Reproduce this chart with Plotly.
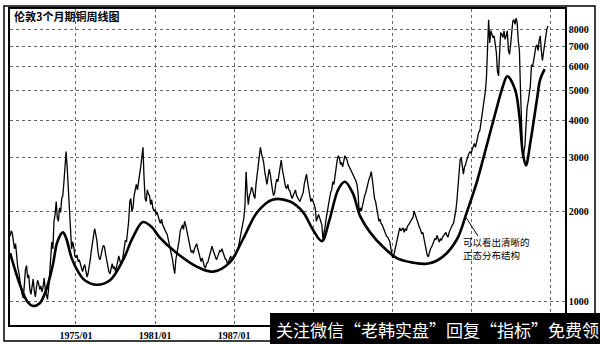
import math
import pandas as pd
import plotly.graph_objects as go

# ---------------- data ----------------
price_start = "1970-01-01"
price_values = [
    # 1970
    1650, 1720, 1690, 1600, 1500, 1560, 1400, 1300, 1250, 1150, 1100, 1060,
    # 1971
    1030, 1150, 1280, 1320, 1200, 1230, 1100, 1060, 1150, 1190, 1090, 1040,
    # 1972
    1120, 1180, 1150, 1100, 1130, 1080, 1120, 1200, 1100, 1040, 1020, 1100,
    # 1973
    1250, 1380, 1580, 1500, 1850, 1950, 2150, 1900, 1850, 2050, 1980, 2200,
    # 1974
    2250, 2500, 2750, 3150, 2800, 2350, 1950, 1750, 1500, 1580, 1520, 1420,
    # 1975
    1400, 1430, 1360, 1380, 1340, 1290, 1260, 1300, 1330, 1270, 1210, 1240,
    # 1976
    1300, 1380, 1480, 1560, 1650, 1750, 1680, 1600, 1470, 1400, 1380, 1460,
    # 1977
    1500, 1540, 1520, 1440, 1360, 1330, 1260, 1240, 1300, 1340, 1290, 1310,
    # 1978
    1260, 1300, 1360, 1420, 1380, 1330, 1350, 1450, 1540, 1600, 1580, 1700,
    # 1979
    1850, 2150, 2200, 2000, 2050, 2250, 2350, 2450, 2350, 2550, 2650, 2800,
    # 1980
    3000, 3250, 2600, 2200, 2150, 2350, 2280, 2250, 2100, 2180, 2050, 2000,
    # 1981
    2020, 1950, 1980, 1900, 1860, 1820, 1880, 1800, 1760, 1720, 1700, 1680,
    # 1982
    1620, 1560, 1500, 1450, 1380, 1300, 1240, 1380, 1450, 1500, 1600, 1720,
    # 1983
    1760, 1800, 1740, 1850, 1800, 1720, 1620, 1580, 1500, 1460, 1480, 1450,
    # 1984
    1500, 1540, 1560, 1500, 1450, 1380, 1360, 1400, 1350, 1310, 1300, 1340,
    # 1985
    1350, 1400, 1450, 1480, 1530, 1480, 1440, 1420, 1380, 1410, 1450, 1480,
    # 1986
    1470, 1500, 1460, 1420, 1390, 1380, 1340, 1360, 1390, 1420, 1370, 1380,
    # 1987
    1400, 1420, 1440, 1480, 1520, 1600, 1640, 1720, 1800, 1900, 2100, 2700,
    # 1988
    2300, 2100, 2250, 2300, 2400, 2350, 2250, 2200, 2450, 2650, 2850, 3100,
    # 1989
    3250, 3100, 3000, 2900, 2700, 2600, 2450, 2600, 2750, 2650, 2450, 2350,
    # 1990
    2250, 2300, 2450, 2550, 2500, 2650, 2800, 2950, 2750, 2600, 2500, 2400,
    # 1991
    2380, 2450, 2350, 2330, 2250, 2200, 2250, 2300, 2350, 2250, 2200, 2180,
    # 1992
    2150, 2200, 2250, 2300, 2450, 2550, 2650, 2500, 2400, 2250, 2150, 2200,
    # 1993
    2150, 2100, 2050, 1850, 1900, 1950, 1900, 1850, 1800, 1620, 1680, 1780,
    # 1994
    1900, 2000, 2050, 2150, 2300, 2350, 2500, 2450, 2650, 2800, 2950, 3050,
    # 1995
    3000, 2850, 2900, 2800, 2950, 3050, 3000, 2950, 2850, 2800, 2750, 2700,
    # 1996
    2650, 2600, 2580, 2520, 2450, 2300, 1980, 2050, 2000, 2100, 2200, 2250,
    # 1997
    2300, 2400, 2450, 2550, 2600, 2700, 2550, 2350, 2200, 2150, 2050, 1950,
    # 1998
    1850, 1880, 1820, 1800, 1760, 1720, 1680, 1650, 1640, 1600, 1580, 1500,
    # 1999
    1420, 1400, 1450, 1500, 1540, 1600, 1700, 1760, 1720, 1740, 1760, 1700,
    # 2000
    1750, 1720, 1780, 1800, 1820, 1850, 1880, 1900, 2000, 1950, 1900, 1830,
    # 2001
    1800, 1760, 1730, 1680, 1700, 1620, 1550, 1500, 1430, 1410, 1470, 1500,
    # 2002
    1520, 1560, 1600, 1620, 1610, 1660, 1620, 1580, 1620, 1600, 1640, 1660,
    # 2003
    1680, 1700, 1660, 1640, 1700, 1740, 1760, 1800, 1820, 1900, 2000, 2150,
    # 2004
    2350, 2700, 2950, 3000, 2750, 2650, 2800, 2850, 2950, 3050, 3100, 3150,
    # 2005
    3100, 3200, 3300, 3350, 3250, 3400, 3500, 3650, 3700, 3900, 4100, 4400,
    # 2006
    4700, 5000, 5500, 6800, 8600, 7200, 7900, 7700, 7500, 7600, 7000, 6700,
    # 2007
    5800, 5600, 6700, 7800, 7700, 7500, 7900, 7400, 7600, 7900, 6800, 6600,
    # 2008
    7100, 8000, 8500, 8600, 8300, 8700, 8400, 7300, 6800, 5000, 3800, 3000,
    # 2009
    3100, 3300, 3800, 4400, 4600, 5000, 5200, 6100, 6000, 6300, 6600, 7000,
    # 2010
    7100, 6800, 7300, 7600, 6800, 6300, 6700, 7200, 7600, 8000, 8200,
]
price_dates = pd.date_range(price_start, periods=len(price_values), freq="MS")

curve_dates = ["1970-01", "1970-10", "1971-05", "1971-10", "1972-04", "1972-10",
               "1973-04", "1973-08", "1974-01", "1974-04", "1974-09",
               "1975-03", "1975-09", "1976-08", "1977-08", "1978-08",
               "1979-05", "1980-02", "1980-10", "1981-05", "1982-09",
               "1984-03", "1985-06", "1986-09", "1987-09", "1988-10",
               "1989-12", "1991-04", "1992-04", "1993-01", "1993-09",
               "1994-04", "1994-12", "1995-06", "1996-01", "1996-08",
               "1997-05", "1998-05", "1999-05", "2000-08", "2001-10",
               "2002-11", "2003-12", "2004-09", "2005-06", "2006-03",
               "2006-12", "2007-06", "2007-10", "2008-05", "2008-09",
               "2008-12", "2009-03", "2009-07", "2010-01", "2010-04", "2010-08"]
curve_values = [1450, 1140, 1000, 970, 990, 1100,
                1330, 1580, 1700, 1630, 1400,
                1260, 1180, 1140, 1180, 1380,
                1640, 1840, 1770, 1640, 1450,
                1310, 1260, 1350, 1610, 1980,
                2180, 2150, 1980, 1730, 1590,
                1870, 2360, 2500, 2300, 1920,
                1700, 1520, 1400, 1350, 1340,
                1410, 1610, 1980, 2480, 3270,
                4340, 5180, 5590, 5060, 4120,
                3130, 2830, 3370, 4690, 5460, 5900]

# gridline positions; labels after 1987/01 are hidden under the banner
x_tick_dates = ["1975-01-01", "1981-01-01", "1987-01-01", "1993-01-01",
                "1999-01-01", "2005-01-01", "2011-01-01"]
x_tick_labels = ["1975/01", "1981/01", "1987/01", "", "", "", ""]
y_tick_values = [1000, 2000, 3000, 4000, 5000, 6000, 7000, 8000]
y_tick_labels = ["1000", "2000", "3000", "4000", "5000", "6000", "7000", "8000"]

title_text = "伦敦3个月期铜周线图"
note_lines = ["可以看出清晰的", "正态分布结构"]
banner_text = "关注微信“老韩实盘”回复“指标”免费领"

# ---------------- figure ----------------
fig = go.Figure()
fig.add_trace(go.Scatter(
    x=price_dates, y=price_values, mode="lines",
    line=dict(color="black", width=1.3), hoverinfo="skip"))
fig.add_trace(go.Scatter(
    x=curve_dates, y=curve_values, mode="lines",
    line=dict(color="black", width=2.6, shape="spline", smoothing=1.0),
    hoverinfo="skip"))

W, H = 600, 344
L, R, T, B = 10, 35, 9, 19
pw, ph = W - L - R, H - T - B


def px(xp):
    return (xp - L) / pw


def py(yp):
    return (H - B - yp) / ph


axis_font = dict(family="Liberation Serif", size=10, color="black", weight="bold")
note_font = dict(family="Noto Sans CJK SC", size=9.5, color="black")

annotations = [
    dict(xref="paper", yref="paper", x=px(12), y=py(16),
         xanchor="left", yanchor="middle", showarrow=False,
         text="<b>" + title_text + "</b>",
         font=dict(family="Noto Sans CJK SC", size=11, color="black")),
    dict(xref="paper", yref="paper", x=px(274), y=py(329),
         xanchor="left", yanchor="middle", showarrow=False,
         text=banner_text,
         font=dict(family="Noto Sans CJK SC", size=17, color="white")),
]
for line_text, ypix in zip(note_lines, [242, 255]):
    annotations.append(dict(
        xref="paper", yref="paper", x=px(461), y=py(ypix),
        xanchor="left", yanchor="middle", showarrow=False,
        text=line_text, font=note_font))

fig.update_layout(
    width=W, height=H,
    margin=dict(l=L, r=R, t=T, b=B, autoexpand=False),
    paper_bgcolor="white", plot_bgcolor="white",
    showlegend=False, hovermode=False,
    xaxis=dict(
        type="date", range=["1969-12-28", "2012-02-17"],
        tickvals=x_tick_dates, ticktext=x_tick_labels,
        showgrid=True, gridcolor="#666", griddash="dot", gridwidth=1,
        showline=True, mirror=True, linecolor="black", linewidth=1.5,
        ticks="", zeroline=False, tickfont=axis_font, automargin=False),
    yaxis=dict(
        type="log", side="right",
        range=[math.log10(839), math.log10(9330)],
        tickvals=y_tick_values, ticktext=y_tick_labels,
        showgrid=True, gridcolor="#666", griddash="dot", gridwidth=1,
        showline=True, mirror=True, linecolor="black", linewidth=1.5,
        ticks="", zeroline=False, tickfont=axis_font, automargin=False),
    shapes=[
        dict(type="rect", xref="paper", yref="paper",
             x0=px(4), x1=px(595), y0=py(341), y1=py(6),
             line=dict(color="black", width=1.5), layer="above"),
        dict(type="line", xref="paper", yref="paper",
             x0=px(465), y0=py(216), x1=px(478), y1=py(236),
             line=dict(color="black", width=1), layer="above"),
        dict(type="rect", xref="paper", yref="paper",
             x0=px(270), x1=px(605), y0=py(350), y1=py(313),
             fillcolor="black", line=dict(width=0), layer="above"),
    ],
    annotations=annotations,
)

fig.write_html("out.html", config={"displayModeBar": False})
